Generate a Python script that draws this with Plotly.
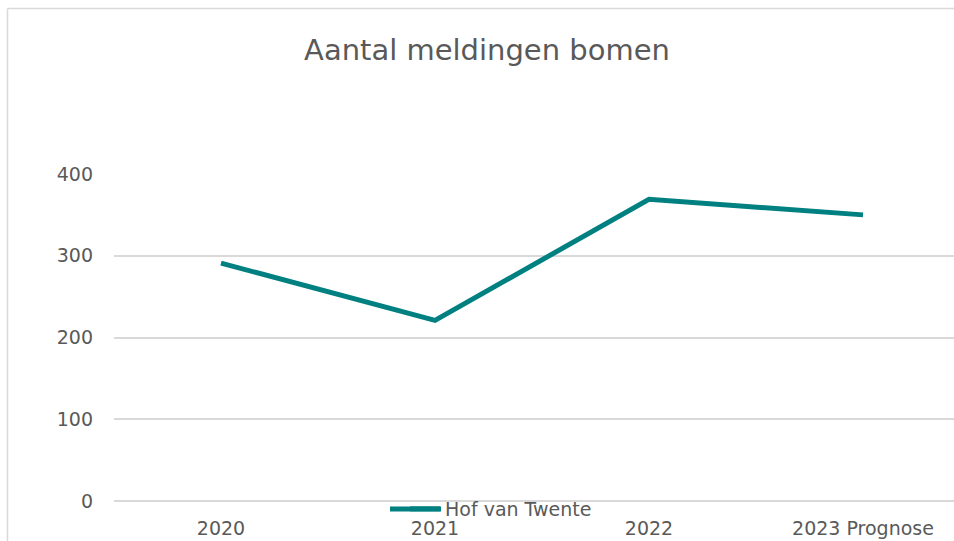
import plotly.graph_objects as go

categories = ["2020", "2021", "2022", "2023 Prognose"]
values = [291, 221, 369, 350]
series_name = "Hof van Twente"
title_text = "Aantal meldingen bomen"
y_ticks = [0, 100, 200, 300, 400]

W, H = 954, 541
# plot area in page pixels: x 114..954, y 174..501
L, R, T, B = 114, 0, 174, 541 - 501
pw = W - L - R
ph = H - T - B

def px_x(p):
    return (p - L) / pw

def px_y(p):
    return (H - B - p) / ph

font_family = "'DejaVu Sans', Lato, sans-serif"
grey = "#595959"
teal = "#008080"

fig = go.Figure()
fig.add_trace(go.Scatter(
    x=list(range(len(categories))), y=values, mode="lines", name=series_name,
    line=dict(color=teal, width=5),
))

fig.update_layout(
    width=W, height=H,
    margin=dict(l=L, r=R, t=T, b=B, autoexpand=False),
    paper_bgcolor="white", plot_bgcolor="white",
    title=dict(text=title_text, x=px_x(487), xref="paper", xanchor="center",
               y=1 - 50 / H, yanchor="middle",
               font=dict(family=font_family, size=29, color=grey)),
    showlegend=True,
    legend=dict(x=px_x(405), y=px_y(509), xanchor="left", yanchor="middle",
                bgcolor="rgba(0,0,0,0)", font=dict(family=font_family, size=19, color=grey),
                itemwidth=30),
    xaxis=dict(tickmode="array", tickvals=list(range(len(categories))), ticktext=categories,
               range=[-0.5, -0.5 + pw / 214.0], showgrid=False, zeroline=False,
               showline=False, ticks="", ticklabelstandoff=14,
               tickfont=dict(family=font_family, size=19, color=grey), fixedrange=True),
    yaxis=dict(range=[0, 400], tickvals=y_ticks, showgrid=True, gridcolor="#d9d9d9", gridwidth=1.5,
               zeroline=True, zerolinecolor="#d9d9d9", zerolinewidth=1.5,
               showline=False, ticks="", ticklabelstandoff=20,
               tickfont=dict(family=font_family, size=19, color=grey), fixedrange=True),
    shapes=[
        dict(type="line", xref="paper", yref="paper", x0=px_x(7.5), x1=px_x(954), y0=px_y(8.5), y1=px_y(8.5),
             line=dict(color="#d9d9d9", width=1.5)),
        dict(type="line", xref="paper", yref="paper", x0=px_x(7.5), x1=px_x(7.5), y0=px_y(8.5), y1=px_y(541),
             line=dict(color="#d9d9d9", width=1.5)),
        # extended legend key (Excel-style longer swatch)
        dict(type="line", xref="paper", yref="paper", x0=px_x(390), x1=px_x(441), y0=px_y(509), y1=px_y(509),
             line=dict(color=teal, width=5)),
    ],
)

fig.write_html(
    "out.html",
    config={"displayModeBar": False},
    post_script="document.body.style.margin='0';document.body.style.overflow='hidden';"
                "document.documentElement.style.overflow='hidden';",
)
